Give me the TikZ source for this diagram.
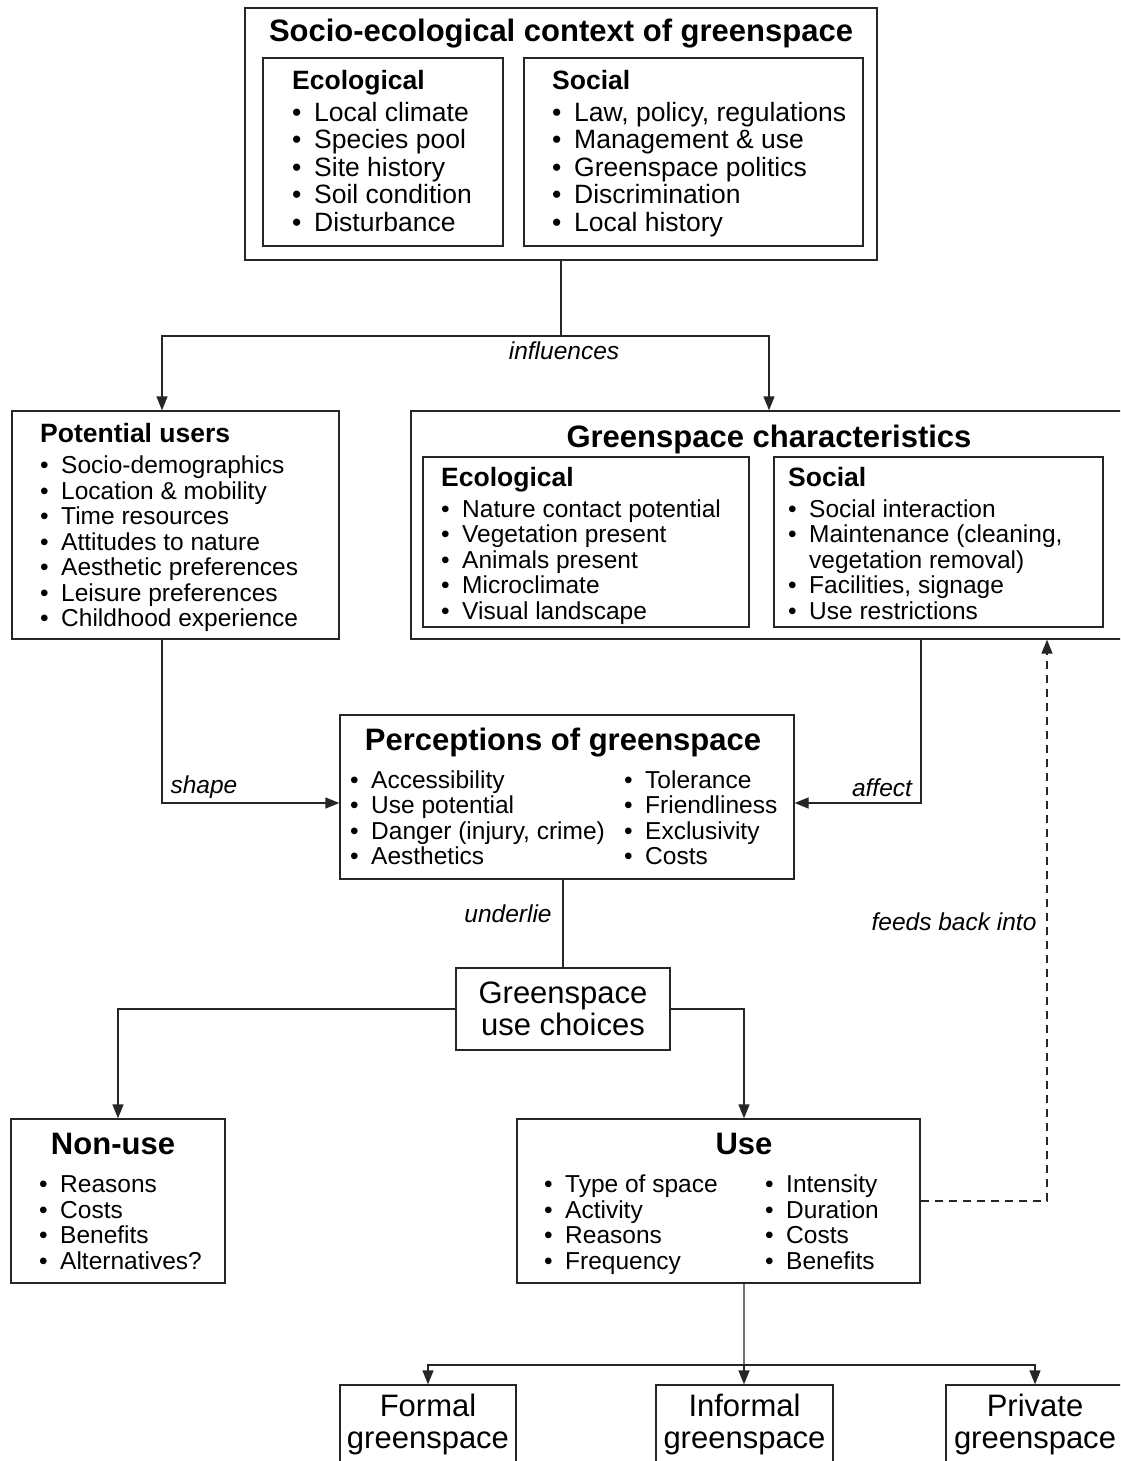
\documentclass[tikz,border=0pt]{standalone}
\usepackage{fontspec}
\setmainfont{Liberation Sans}
\usetikzlibrary{arrows.meta, positioning}
\tikzset{
    box/.style={draw=black!85, line width=1.3bp, inner sep=0pt},
    ttl/.style={font=\fontsize{31bp}{32bp}\selectfont\bfseries, anchor=base, inner sep=0pt},
    hdr/.style={font=\fontsize{26.5bp}{27.5bp}\selectfont\bfseries, anchor=base west, inner sep=0pt},
    biglist/.style={font=\fontsize{26.5bp}{27.5bp}\selectfont, align=left, anchor=base west, inner sep=0pt},
    lst/.style={font=\fontsize{24.5bp}{25.5bp}\selectfont, align=left, anchor=base west, inner sep=0pt},
    big/.style={font=\fontsize{31bp}{32bp}\selectfont, align=center},
    lbl/.style={font=\fontsize{24.5bp}{25.5bp}\selectfont\itshape, inner sep=0pt},
    link/.style={draw=black!85, line width=1.3bp},
    arr/.style={link, -{Triangle[length=14bp,width=11bp]}},
    feedback/.style={dash pattern=on 8bp off 6bp},
}
\newcommand{\gitem}[2][21bp]{\makebox[#1][l]{\textbullet}#2}

\begin{document}
\begin{tikzpicture}[x=1bp, y=-1bp]
    \useasboundingbox (0,0) rectangle (1120,1461);
    \clip (0,0) rectangle (1120,1461);
    % context (lists are placed at the baseline of their last line)
    \node[box, minimum width=632bp, minimum height=252bp] (ctx) at (561,134) {};
    \node[box, minimum width=240bp, minimum height=188bp] (ctxeco) at (383,152) {};
    \node[box, minimum width=339bp, minimum height=188bp] (ctxsoc) at (693.5,152) {};
    \node[ttl] (ctxttl) at (561,42) {Socio-ecological context of greenspace};
    \node[hdr] (ctxecohdr) at (292,89.5) {Ecological};
    \node[hdr] (ctxsochdr) at (552,89.5) {Social};
    \node[biglist] (ctxecolst) at (292,231.5) {\gitem[22bp]{Local climate}\\ \gitem[22bp]{Species pool}\\
        \gitem[22bp]{Site history}\\ \gitem[22bp]{Soil condition}\\ \gitem[22bp]{Disturbance}};
    \node[biglist] (ctxsoclst) at (552,231.5) {\gitem[22bp]{Law, policy, regulations}\\ \gitem[22bp]{Management \& use}\\
        \gitem[22bp]{Greenspace politics}\\ \gitem[22bp]{Discrimination}\\ \gitem[22bp]{Local history}};
    % users and characteristics
    \node[box, minimum width=327bp, minimum height=228bp] (users) at (175.5,525) {};
    \node[hdr] (usershdr) at (40,442.5) {Potential users};
    \node[lst] (userslst) at (40,626.8) {\gitem{Socio-demographics}\\ \gitem{Location \& mobility}\\
        \gitem{Time resources}\\ \gitem{Attitudes to nature}\\ \gitem{Aesthetic preferences}\\
        \gitem{Leisure preferences}\\ \gitem{Childhood experience}};
    \node[box, minimum width=716bp, minimum height=228bp] (gchar) at (769,525) {};
    \node[box, minimum width=326bp, minimum height=170bp] (gchareco) at (586,542) {};
    \node[box, minimum width=329bp, minimum height=170bp] (gcharsoc) at (938.5,542) {};
    \node[ttl] (gcharttl) at (769,447) {Greenspace characteristics};
    \node[hdr] (gcharecohdr) at (441,486.5) {Ecological};
    \node[hdr] (gcharsochdr) at (788,486.5) {Social};
    \node[lst] (gcharecolst) at (441,619) {\gitem{Nature contact potential}\\ \gitem{Vegetation present}\\
        \gitem{Animals present}\\ \gitem{Microclimate}\\ \gitem{Visual landscape}};
    \node[lst] (gcharsoclst) at (788,619) {\gitem{Social interaction}\\ \gitem{Maintenance (cleaning,}\\
        \hspace*{21bp}vegetation removal)\\ \gitem{Facilities, signage}\\ \gitem{Use restrictions}};
    % perceptions
    \node[box, minimum width=454bp, minimum height=164bp] (percep) at (567,797) {};
    \node[ttl] (percepttl) at (563,750) {Perceptions of greenspace};
    \node[lst] (perceplst) at (350,864.5) {\gitem{Accessibility}\\ \gitem{Use potential}\\
        \gitem{Danger (injury, crime)}\\ \gitem{Aesthetics}};
    \node[lst] (perceplstb) at (624,864.5) {\gitem{Tolerance}\\ \gitem{Friendliness}\\
        \gitem{Exclusivity}\\ \gitem{Costs}};
    % choices
    \node[box, big, minimum width=214bp, minimum height=82bp] (choices) at (563,1009) {Greenspace\\use choices};
    \node[box, minimum width=214bp, minimum height=164bp] (nonuse) at (118,1201) {};
    \node[ttl] (nonusettl) at (113,1154) {Non-use};
    \node[lst] (nonuselst) at (39,1269.3) {\gitem{Reasons}\\ \gitem{Costs}\\ \gitem{Benefits}\\ \gitem{Alternatives?}};
    \node[box, minimum width=403bp, minimum height=164bp] (use) at (718.5,1201) {};
    \node[ttl] (usettl) at (744,1154) {Use};
    \node[lst] (uselst) at (544,1269.3) {\gitem{Type of space}\\ \gitem{Activity}\\ \gitem{Reasons}\\ \gitem{Frequency}};
    \node[lst] (uselstb) at (765,1269.3) {\gitem{Intensity}\\ \gitem{Duration}\\ \gitem{Costs}\\ \gitem{Benefits}};
    % kinds of greenspace
    \node[box, big, minimum width=176bp, minimum height=79bp] (formal) at (428,1424.5) {Formal\\greenspace};
    \node[box, big, minimum width=177bp, minimum height=79bp] (informal) at (744.5,1424.5) {Informal\\greenspace};
    \node[box, big, minimum width=178bp, minimum height=79bp] (private) at (1035,1424.5) {Private\\greenspace};
    % connectors
    \coordinate (split) at (561,336);
    \draw[link] (ctx.south) -- (split);
    \draw[arr] (split) -| ([xshift=-13.5bp]users.north);
    \draw[arr] (split) -| (gchar.north);
    \node[lbl] (infl) at (564,351) {influences};
    \draw[arr] ([xshift=-13.5bp]users.south) |- ([yshift=-6bp]percep.west);
    \node[lbl] (shp) at (204,787) {shape};
    \draw[arr] ([xshift=152bp]gchar.south) |- ([yshift=-6bp]percep.east);
    \node[lbl] (aff) at (882,788) {affect};
    \draw[link] (percep.south -| choices.north) -- (choices.north);
    \node[lbl] (und) at (508,914) {underlie};
    \draw[arr] (choices.west) -| (nonuse.north);
    \draw[arr] (choices.east) -| ([xshift=25.5bp]use.north);
    \draw[arr, feedback] (use.east) -| ([xshift=278bp]gchar.south);
    \node[lbl] (fb) at (954,922) {feeds back into};
    \coordinate (split2) at (744,1365);
    \draw[link] ([xshift=25.5bp]use.south) -- (split2);
    \draw[arr] (split2) -| (formal.north);
    \draw[arr] (split2) -- (split2 |- informal.north);
    \draw[arr] (split2) -| (private.north);
\end{tikzpicture}
\end{document}
